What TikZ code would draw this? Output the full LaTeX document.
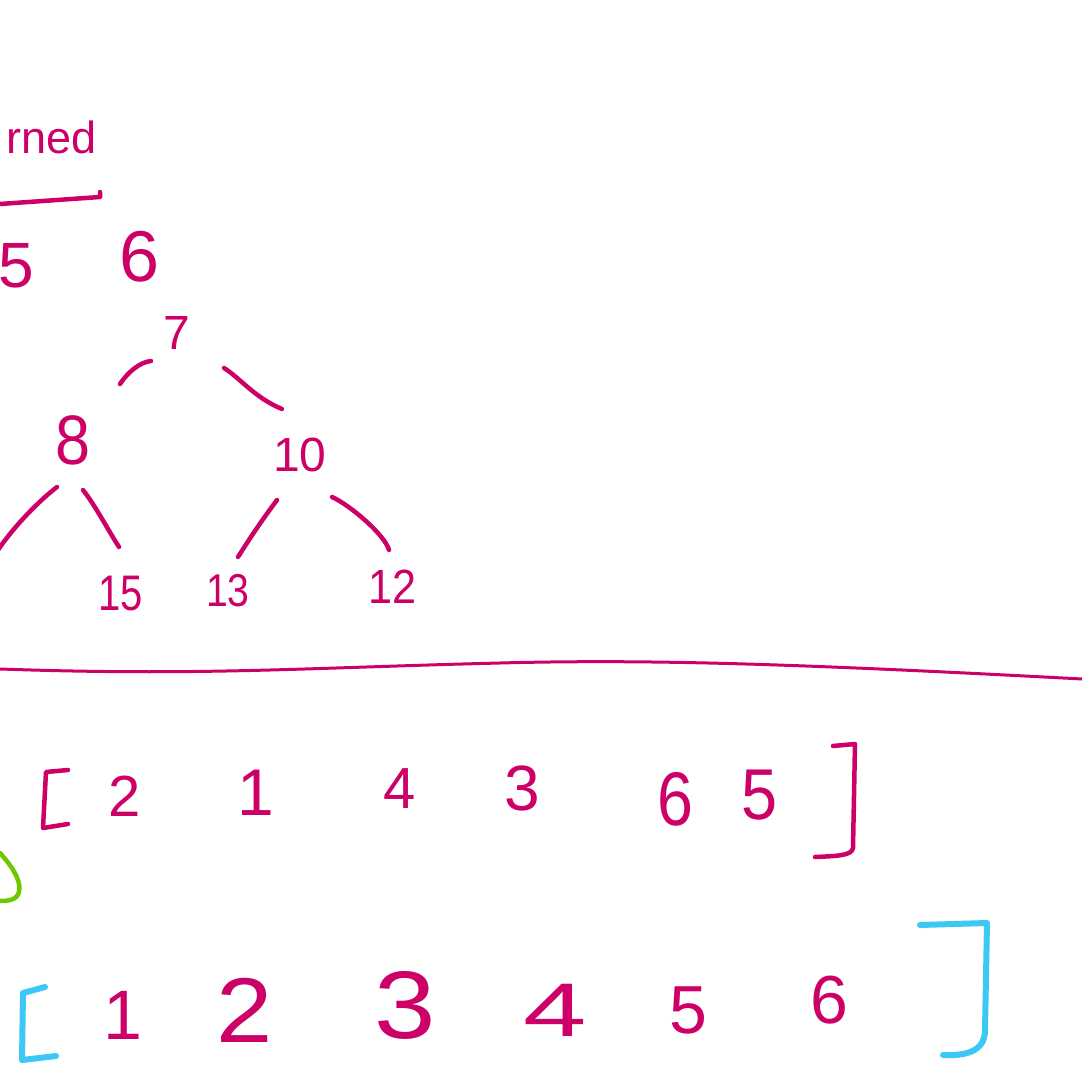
\documentclass[tikz,border=0pt]{standalone}
\usepackage{fontspec}
\setmainfont{Liberation Sans}
\definecolor{ink}{RGB}{204,0,102}
\definecolor{blueink}{RGB}{60,200,245}
\definecolor{greenink}{RGB}{110,200,0}
\begin{document}
\begin{tikzpicture}[x=1pt,y=-1pt,
  pen/.style={draw=ink,line width=4.5pt,line cap=round,line join=round},
  bpen/.style={draw=blueink,line width=6pt,line cap=round,line join=round},
  gpen/.style={draw=greenink,line width=4.5pt,line cap=round,line join=round},
  dig/.style={text=ink,font=\fontsize{#1}{#1}\selectfont,inner sep=0pt}]
\useasboundingbox (0,0) rectangle (1082,1067);
\fill[white] (0,0) rectangle (1082,1067);
\clip (0,0) rectangle (1082,1067);

% top heading fragment
\node[dig=45,anchor=base east] (head) at (97,154) {rned};
\coordinate (ul1) at (0,204);
\coordinate (ul2) at (100,197);
\coordinate (ul3) at (100,192);
\draw[pen] (ul1) -- (ul2) -- (ul3);
\node[dig=64] (t5) at (16,266) {5};
\node[dig=72] (t6) at (140,257) {6};

% tree
\node[dig=48] (n7) at (177,333) {7};
\node[dig=70,xscale=0.9] (n8) at (73,440) {8};
\node[dig=48] (n10) at (300,455) {10};
\node[dig=50,xscale=0.8] (n15) at (121,594) {15};
\node[dig=46,xscale=0.85] (n13) at (228,591) {13};
\node[dig=48,xscale=0.9] (n12) at (393,587) {12};
\coordinate (e1a) at (120,384); \coordinate (e1b) at (151,361);
\coordinate (e2a) at (224,368); \coordinate (e2b) at (282,409);
\coordinate (e3a) at (57,487);  \coordinate (e3b) at (-2,550);
\coordinate (e4a) at (83,490);  \coordinate (e4b) at (119,547);
\coordinate (e5a) at (277,500); \coordinate (e5b) at (238,557);
\coordinate (e6a) at (332,497); \coordinate (e6b) at (389,550);
\draw[pen] (e1a) .. controls (128,372) and (140,362) .. (e1b);
\draw[pen] (e2a) .. controls (240,378) and (255,398) .. (e2b);
\draw[pen] (e3a) .. controls (40,500) and (15,525) .. (e3b);
\draw[pen] (e4a) .. controls (95,505) and (108,530) .. (e4b);
\draw[pen] (e5a) .. controls (262,520) and (250,538) .. (e5b);
\draw[pen] (e6a) .. controls (350,505) and (385,535) .. (e6b);

% divider
\coordinate (d0) at (0,669);
\coordinate (d1) at (1082,679);
\draw[pen,line width=3pt] (d0) .. controls (200,676) and (300,668) .. (500,663)
  .. controls (650,659) and (800,664) .. (d1);

% middle array
\coordinate (lb1) at (68,770); \coordinate (lb2) at (46,772);
\coordinate (lb3) at (43,828); \coordinate (lb4) at (68,824);
\draw[pen] (lb1) -- (lb2) -- (lb3) -- (lb4);
\node[dig=58] (m2) at (125,796) {2};
\node[dig=66] (m1) at (256,793) {1};
\node[dig=58] (m4) at (400,789) {4};
\node[dig=64] (m3) at (522,788) {3};
\node[dig=76,xscale=0.85] (m6) at (675,799) {6};
\node[dig=72,xscale=0.9] (m5) at (760,795) {5};
\coordinate (rb1) at (833,746); \coordinate (rb2) at (855,744);
\coordinate (rb3) at (853,848); \coordinate (rb4) at (815,857);
\draw[pen] (rb1) -- (rb2) -- (rb3) .. controls (852,856) and (835,856) .. (rb4);

% green fragment
\coordinate (g1) at (0,853); \coordinate (g2) at (0,901);
\draw[gpen] (g1) .. controls (10,864) and (22,880) .. (19,892)
  .. controls (17,900) and (8,901) .. (g2);

% bottom array
\coordinate (bl1) at (45,987); \coordinate (bl2) at (23,993);
\coordinate (bl3) at (22,1060); \coordinate (bl4) at (56,1056);
\draw[bpen] (bl1) -- (bl2) -- (bl3) -- (bl4);
\node[dig=70] (b1) at (123,1015) {1};
\node[dig=92,xscale=1.1] (b2) at (245,1010) {2};
\node[dig=96,xscale=1.15] (b3) at (405,1005) {3};
\node[dig=76,xscale=1.5] (b4) at (555,1010) {4};
\node[dig=68] (b5) at (688,1010) {5};
\node[dig=68] (b6) at (829,1000) {6};
\coordinate (br1) at (920,925); \coordinate (br2) at (987,923);
\coordinate (br3) at (985,1030); \coordinate (br4) at (943,1055);
\draw[bpen] (br1) -- (br2) -- (br3) .. controls (985,1052) and (965,1056) .. (br4);
\end{tikzpicture}
\end{document}
